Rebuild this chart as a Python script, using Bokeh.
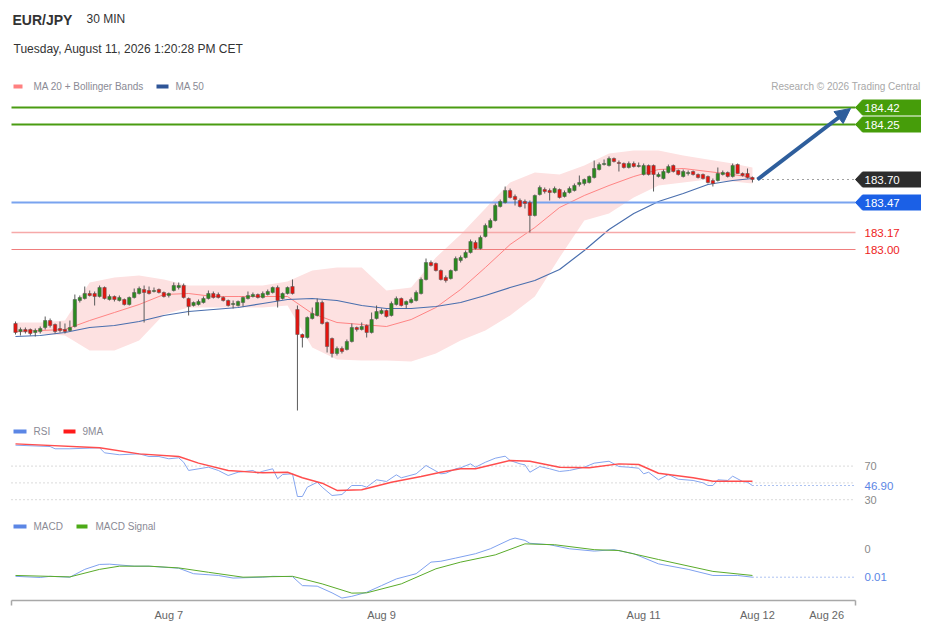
from bokeh.plotting import figure
from bokeh.models import Range1d, LinearAxis, FixedTicker, Label, Arrow, NormalHead, ColumnDataSource
from bokeh.embed import file_html
from bokeh.resources import INLINE

# ---------------- data ----------------
opens = [182.26,182.18,182.20,182.20,182.17,182.18,182.22,182.29,182.25,182.21,182.20,182.19,182.23,182.49,182.51,182.56,182.56,182.53,182.62,182.50,
         182.53,182.49,182.50,182.45,182.52,182.56,182.60,182.59,182.58,182.60,182.57,182.54,182.59,182.62,182.64,182.51,182.44,182.45,182.47,182.51,
         182.56,182.55,182.52,182.49,182.45,182.44,182.47,182.51,182.53,182.55,182.52,182.55,182.57,182.62,182.51,182.56,182.63,182.40,182.15,182.12,
         182.31,182.34,182.47,182.27,182.11,181.96,182.01,182.00,182.08,182.22,182.20,182.24,182.17,182.31,182.36,182.39,182.34,182.45,182.51,182.45,
         182.47,182.49,182.56,182.70,182.87,182.86,182.79,182.72,182.71,182.79,182.89,182.92,182.97,183.07,183.01,183.13,183.22,183.29,183.43,183.47,
         183.59,183.53,183.49,183.48,183.47,183.34,183.55,183.60,183.59,183.57,183.60,183.53,183.57,183.59,183.65,183.66,183.67,183.72,183.80,183.85,
         183.84,183.91,183.87,183.86,183.82,183.86,183.83,183.75,183.84,183.84,183.73,183.71,183.77,183.84,183.79,183.73,183.76,183.78,183.75,183.75,
         183.73,183.69,183.69,183.75,183.77,183.73,183.85,183.76,183.76,183.72]
highs = [182.28,182.22,182.22,182.21,182.21,182.23,182.33,182.31,182.26,182.28,182.26,182.29,182.55,182.54,182.63,182.59,182.58,182.64,182.63,182.55,
         182.54,182.54,182.51,182.53,182.61,182.63,182.64,182.63,182.62,182.61,182.58,182.57,182.67,182.67,182.66,182.52,182.48,182.50,182.53,182.59,
         182.58,182.57,182.53,182.50,182.49,182.49,182.53,182.58,182.57,182.56,182.58,182.60,182.63,182.64,182.57,182.63,182.70,182.44,182.16,182.33,
         182.42,182.51,182.49,182.28,182.12,182.03,182.03,182.10,182.26,182.23,182.27,182.25,182.37,182.44,182.41,182.40,182.48,182.53,182.52,182.49,
         182.52,182.59,182.72,182.91,182.89,182.87,182.80,182.74,182.80,182.93,182.94,182.99,183.10,183.09,183.14,183.26,183.31,183.46,183.50,183.63,
         183.61,183.55,183.51,183.50,183.49,183.55,183.64,183.62,183.61,183.63,183.61,183.59,183.63,183.66,183.74,183.71,183.74,183.89,183.87,183.90,
         183.93,183.92,183.89,183.87,183.88,183.88,183.87,183.86,183.85,183.85,183.77,183.80,183.85,183.85,183.80,183.80,183.79,183.79,183.76,183.76,
         183.74,183.71,183.82,183.79,183.78,183.86,183.86,183.77,183.81,183.73]
lows = [182.15,182.14,182.16,182.14,182.13,182.16,182.20,182.22,182.16,182.17,182.16,182.18,182.22,182.47,182.50,182.53,182.44,182.52,182.50,182.49,
        182.48,182.48,182.44,182.44,182.51,182.55,182.27,182.55,182.57,182.56,182.52,182.52,182.58,182.60,182.51,182.34,182.43,182.44,182.46,182.50,
        182.51,182.51,182.48,182.43,182.41,182.43,182.43,182.50,182.52,182.51,182.51,182.54,182.56,182.42,182.50,182.55,182.55,181.39,182.02,182.11,
        182.30,182.33,182.25,181.97,181.92,181.94,181.96,181.99,182.07,182.18,182.19,182.12,182.16,182.30,182.35,182.32,182.33,182.44,182.43,182.41,
        182.46,182.48,182.55,182.69,182.83,182.78,182.69,182.67,182.70,182.78,182.87,182.91,182.96,183.00,183.00,183.12,183.21,183.28,183.42,183.46,
        183.51,183.44,183.42,183.41,183.17,183.33,183.54,183.56,183.49,183.56,183.51,183.52,183.56,183.58,183.63,183.64,183.66,183.71,183.79,183.84,
        183.83,183.87,183.78,183.81,183.81,183.82,183.82,183.74,183.74,183.58,183.72,183.70,183.76,183.77,183.74,183.72,183.74,183.74,183.71,183.70,
        183.66,183.63,183.68,183.74,183.72,183.72,183.76,183.73,183.71,183.67]
closes = [182.17,182.20,182.18,182.16,182.19,182.21,182.29,182.24,182.18,182.19,182.18,182.22,182.50,182.52,182.56,182.54,182.53,182.62,182.51,182.53,
          182.50,182.52,182.45,182.52,182.57,182.61,182.57,182.56,182.59,182.57,182.53,182.56,182.64,182.64,182.52,182.43,182.47,182.48,182.51,182.56,
          182.52,182.52,182.49,182.44,182.46,182.48,182.52,182.54,182.55,182.52,182.56,182.58,182.62,182.49,182.56,182.62,182.56,182.15,182.12,182.32,
          182.36,182.47,182.26,182.03,181.96,182.01,181.98,182.08,182.22,182.20,182.23,182.17,182.30,182.38,182.39,182.33,182.46,182.51,182.44,182.48,
          182.50,182.57,182.70,182.87,182.84,182.79,182.70,182.69,182.79,182.91,182.92,182.97,183.08,183.01,183.12,183.24,183.29,183.44,183.48,183.59,
          183.52,183.50,183.43,183.46,183.34,183.54,183.62,183.58,183.57,183.61,183.52,183.57,183.61,183.64,183.67,183.70,183.73,183.81,183.85,183.86,
          183.91,183.88,183.86,183.82,183.86,183.83,183.84,183.84,183.75,183.75,183.75,183.78,183.83,183.78,183.75,183.78,183.77,183.75,183.72,183.71,
          183.67,183.66,183.76,183.77,183.73,183.84,183.76,183.74,183.72,183.70]

band_idx = [0,5,10,15,20,25,30,35,40,45,50,55,60,65,70,75,80,85,90,95,100,105,110,115,120,125,130,135,140,145,149]
bb_upper = [182.27,182.27,182.29,182.67,182.72,182.74,182.70,182.64,182.64,182.64,182.64,182.68,182.79,182.82,182.82,182.59,182.62,182.92,183.15,183.41,
            183.67,183.77,183.75,183.84,183.96,183.99,183.99,183.94,183.90,183.86,183.82]
bb_lower = [182.17,182.16,182.14,181.99,181.99,182.09,182.35,182.42,182.42,182.42,182.42,182.44,182.02,181.90,181.89,181.89,181.88,181.96,182.09,182.19,
            182.34,182.53,182.92,183.29,183.36,183.52,183.64,183.67,183.70,183.68,183.66]
ma20 = [182.18,182.19,182.20,182.29,182.37,182.45,182.55,182.56,182.53,182.53,182.53,182.53,182.36,182.27,182.25,182.23,182.30,182.42,182.60,182.82,
        183.05,183.22,183.42,183.54,183.64,183.73,183.80,183.81,183.78,183.75,183.72]
ma50 = [182.13,182.14,182.17,182.22,182.24,182.28,182.34,182.38,182.40,182.42,182.46,182.50,182.51,182.49,182.44,182.41,182.41,182.43,182.47,182.54,
        182.62,182.69,182.80,182.99,183.20,183.36,183.48,183.56,183.65,183.69,183.71]

rsi_idx = [0,7,8,11,17,18,21,25,27,29,31,33,34,35,39,41,43,45,48,49,50,52,53,54,56,57,58,59,61,62,64,66,68,70,71,73,75,77,78,81,
           83,86,87,89,90,92,93,95,97,99,100,102,103,104,106,108,110,112,115,117,120,122,124,126,127,128,130,132,134,137,139,140,141,142,144,145,147,148,149]
rsi_val = [94.9,93.3,90.6,90.6,91.8,85.8,83.5,84.6,81.4,81.4,78.7,79.9,74.6,64.8,68.7,64.8,58.8,62.7,64.8,61.5,63.9,66.8,54.9,60.0,60.8,33.8,33.8,44.9,50.8,44.9,
           35.0,36.2,46.9,46.9,44.9,53.7,51.7,59.6,56.1,60.8,70.7,60.8,61.5,66.8,68.0,72.7,68.7,74.6,79.4,81.8,76.7,72.7,71.5,62.7,69.5,66.8,63.6,64.8,68.7,73.5,
           75.8,69.5,68.7,67.5,60.8,62.7,53.7,60.0,54.4,52.9,50.1,46.9,46.9,53.7,52.9,58.0,51.7,50.8,46.90]
rsima_idx = [0,17,25,33,37,43,50,55,58,62,65,70,76,82,86,90,93,100,104,110,116,122,126,130,137,141,149]
rsima_val = [96.5,91.8,84.6,81.4,73.5,64.8,62.0,62.7,56.1,49.6,41.0,41.8,50.8,57.6,62.7,66.8,66.8,76.7,75.8,68.7,68.0,72.7,71.9,61.5,56.1,52.0,52.0]

macd_idx = [0,5,7,11,14,17,19,24,27,33,36,41,44,50,52,56,58,61,64,66,68,71,74,77,81,84,86,89,93,96,100,101,103,104,108,112,117,121,125,130,136,141,146,149]
macd_val = [-0.0096,-0.0100,-0.0096,-0.0099,-0.0072,-0.0055,-0.0054,-0.0061,-0.0061,-0.0068,-0.0087,-0.0093,-0.0102,-0.0099,-0.0096,-0.0097,-0.0128,-0.0130,-0.0153,-0.0171,
            -0.0165,-0.0151,-0.0128,-0.0105,-0.0087,-0.0047,-0.0044,-0.0033,-0.0018,-0.0001,0.0031,0.0036,0.0028,0.0018,0.0013,-0.0001,-0.0009,-0.0004,-0.0018,-0.0053,
            -0.0072,-0.0093,-0.0093,-0.0099]
sig_idx = [0,11,17,21,27,33,39,46,56,62,68,71,78,85,90,97,103,109,117,122,130,141,149]
sig_val = [-0.0093,-0.0098,-0.0072,-0.0061,-0.0061,-0.0067,-0.0082,-0.0099,-0.0096,-0.0122,-0.0154,-0.0153,-0.0122,-0.0070,-0.0047,-0.0022,0.0016,0.0013,-0.0004,-0.0007,
           -0.0038,-0.0079,-0.0093]

resistance = [184.42, 184.25]
pivot_level = 183.47
support_levels = [183.17, 183.00]
last_price = 183.70
rsi_levels = [70, 50, 30]
rsi_last_label = "46.90"
macd_last_label = "0.01"
tick_pos = [31, 74, 127, 150, 164]
tick_labels = ["Aug 7", "Aug 9", "Aug 11", "Aug 12", "Aug 26"]

# ---------------- layout helpers (screen px -> data) ----------------
SP = 4.946
def X(px):
    return (px - 15) / SP
def YP(py):
    return 185.49 - py / 100.0
PX_PER_UNIT = 100.0

FONT = "Liberation Sans"
N = len(opens)
idx = list(range(N))

W, H = 921, 600
p = figure(frame_width=W, frame_height=H,
           x_range=Range1d(X(0), X(W)), y_range=Range1d(YP(H), YP(0)),
           output_backend="svg", toolbar_location=None,
           x_axis_location=None, y_axis_location=None,
           min_border_left=0, min_border_right=0, min_border_top=0, min_border_bottom=21,
           outline_line_color=None, background_fill_color="white", border_fill_color="white")
p.xgrid.visible = False
p.ygrid.visible = False
p.grid.grid_line_color = None

# RSI scale: 50 at y=482.4, 0.84 px/unit
def rsi_at(py):
    return 50 + (482.4 - py) / 0.84
# MACD scale: 0 at y=548, 0.000345 per px
def macd_at(py):
    return (548 - py) * 0.000345
p.extra_y_ranges = {"rsi": Range1d(rsi_at(H), rsi_at(0)), "macd": Range1d(macd_at(H), macd_at(0))}

# Bollinger band + MAs
p.varea(x=band_idx, y1=bb_lower, y2=bb_upper, fill_color="#fde1e1", fill_alpha=1.0)
p.line(band_idx, ma20, line_color="#ff7a7a", line_width=1, line_alpha=0.9)
p.line(band_idx, ma50, line_color="#4a6fae", line_width=1.2)

# horizontal levels
x0, x1 = X(11), X(855)
for lv in resistance:
    p.line([x0, x1], [lv, lv], line_color="#4a9c12", line_width=2)
p.line([x0, x1], [pivot_level, pivot_level], line_color="#79a3ef", line_width=2)
p.line([x0, x1], [support_levels[0]] * 2, line_color="#f6a9a9", line_width=1.5)
p.line([x0, x1], [support_levels[1]] * 2, line_color="#ef7d7d", line_width=1)
p.line([X(757), x1], [last_price, last_price], line_color="#444444", line_width=1, line_dash="1 4")

# candles
colors = ["#2b8a1e" if c >= o else "#e5140e" for o, c in zip(opens, closes)]
src = ColumnDataSource(dict(x=idx, o=opens, h=highs, l=lows, c=closes,
                            top=[max(o, c) for o, c in zip(opens, closes)],
                            bot=[min(o, c) for o, c in zip(opens, closes)],
                            col=colors))
p.segment(x0="x", y0="h", x1="x", y1="l", source=src, line_color="#5a5a5a", line_width=1)
p.vbar(x="x", top="top", bottom="bot", width=0.68, source=src, fill_color="col",
       line_color="#555555", line_width=0.5)

# forecast arrow to first resistance
ac = "#2e5e9c"
p.add_layout(Arrow(end=NormalHead(size=15, fill_color=ac, line_color=ac),
                   x_start=X(757), y_start=last_price, x_end=X(850), y_end=resistance[0] - 0.01,
                   line_color=ac, line_width=4))

# price tags
def tag(level, color):
    h = 7.5 / PX_PER_UNIT
    xs = [X(855), X(862), X(930), X(930), X(862)]
    ys = [level, level + h, level + h, level - h, level - h]
    p.patch(xs, ys, fill_color=color, line_color=color)
    p.add_layout(Label(x=X(864), y=level, text=f"{level:.2f}", text_color="white",
                       text_font=FONT, text_font_size="11.5px", text_baseline="middle", text_align="left"))
tag(resistance[0], "#469d0a")
tag(resistance[1], "#469d0a")
tag(last_price, "#2d2d2d")
tag(pivot_level, "#1b60e6")
for lv in support_levels:
    p.add_layout(Label(x=X(864), y=lv, text=f"{lv:.2f}", text_color="#ee1c1c",
                       text_font=FONT, text_font_size="11.5px", text_baseline="middle", text_align="left"))

# RSI panel
for lv in rsi_levels:
    p.line([x0, x1], [lv, lv], y_range_name="rsi", line_color="#b5b5b5", line_width=1, line_dash="1 3")
p.line([X(752), x1], [rsi_val[-1]] * 2, y_range_name="rsi", line_color="#5b86e5", line_width=1, line_dash="1 3")
p.line(rsi_idx, rsi_val, y_range_name="rsi", line_color="#86a6ef", line_width=1)
p.line(rsima_idx, rsima_val, y_range_name="rsi", line_color="#ff4d4d", line_width=1.4)
for lv in [70, 30]:
    p.add_layout(Label(x=X(864), y=lv, y_range_name="rsi", text=str(lv), text_color="#8a8a8a",
                       text_font=FONT, text_font_size="11px", text_baseline="middle"))
p.add_layout(Label(x=X(864), y=rsi_val[-1], y_range_name="rsi", text=rsi_last_label, text_color="#5b86e5",
                   text_font=FONT, text_font_size="11.5px", text_baseline="middle"))

# MACD panel
p.line([X(752), x1], [macd_val[-1]] * 2, y_range_name="macd", line_color="#5b86e5", line_width=1, line_dash="1 3")
p.line(macd_idx, macd_val, y_range_name="macd", line_color="#7fa1ef", line_width=1)
p.line(sig_idx, sig_val, y_range_name="macd", line_color="#5aab2a", line_width=1)
p.add_layout(Label(x=X(864), y=0, y_range_name="macd", text="0", text_color="#8a8a8a",
                   text_font=FONT, text_font_size="11px", text_baseline="middle"))
p.add_layout(Label(x=X(864), y=macd_val[-1], y_range_name="macd", text=macd_last_label, text_color="#5b86e5",
                   text_font=FONT, text_font_size="11.5px", text_baseline="middle"))

# header texts
def txt(px, py, s, size, color, style="normal", align="left"):
    p.add_layout(Label(x=X(px), y=YP(py), text=s, text_color=color, text_font=FONT,
                       text_font_size=size, text_font_style=style, text_baseline="middle", text_align=align))
txt(12, 19, "EUR/JPY", "14px", "#333333", "bold")
txt(86, 18.5, "30 MIN", "12px", "#333333")
txt(13, 48.5, "Tuesday, August 11, 2026 1:20:28 PM CET", "12px", "#333333")
txt(920, 86, "Research \u00a9 2026 Trading Central", "10px", "#a8a8a8", align="right")

# legends
def swatch(px0, px1, py, color):
    p.quad(left=X(px0), right=X(px1), bottom=YP(py + 2), top=YP(py - 2), fill_color=color, line_color=None)
swatch(13, 22, 86, "#ff8080"); txt(33, 86, "MA 20 + Bollinger Bands", "10px", "#8a8a95")
swatch(156, 168, 86, "#2f5597"); txt(175, 86, "MA 50", "10px", "#8a8a95")
swatch(13, 26, 431, "#5b86e5"); txt(33, 430.5, "RSI", "10px", "#8a8a95")
swatch(63, 75, 431, "#ff1a1a"); txt(82, 430.5, "9MA", "10px", "#8a8a95")
swatch(13, 26, 526, "#5b86e5"); txt(33, 525.5, "MACD", "10px", "#8a8a95")
swatch(76, 87, 526, "#4caa17"); txt(95, 525.5, "MACD Signal", "10px", "#8a8a95")

# x axis
ax = LinearAxis(ticker=FixedTicker(ticks=tick_pos, minor_ticks=[X(11) + 0.01, X(855) - 0.01]),
                bounds=(X(11), X(855)),
                major_label_overrides={t: l for t, l in zip(tick_pos, tick_labels)},
                axis_line_color="#a8a8a8", axis_line_width=1.5,
                major_tick_line_color=None, major_tick_out=0, major_tick_in=0,
                minor_tick_line_color="#a8a8a8", minor_tick_out=5, minor_tick_in=0, minor_tick_line_width=1.5,
                major_label_text_font=FONT, major_label_text_font_size="11px",
                major_label_text_color="#666666", major_label_standoff=3)
p.add_layout(ax, "below")

open("out.html", "w").write(file_html(p, INLINE))
